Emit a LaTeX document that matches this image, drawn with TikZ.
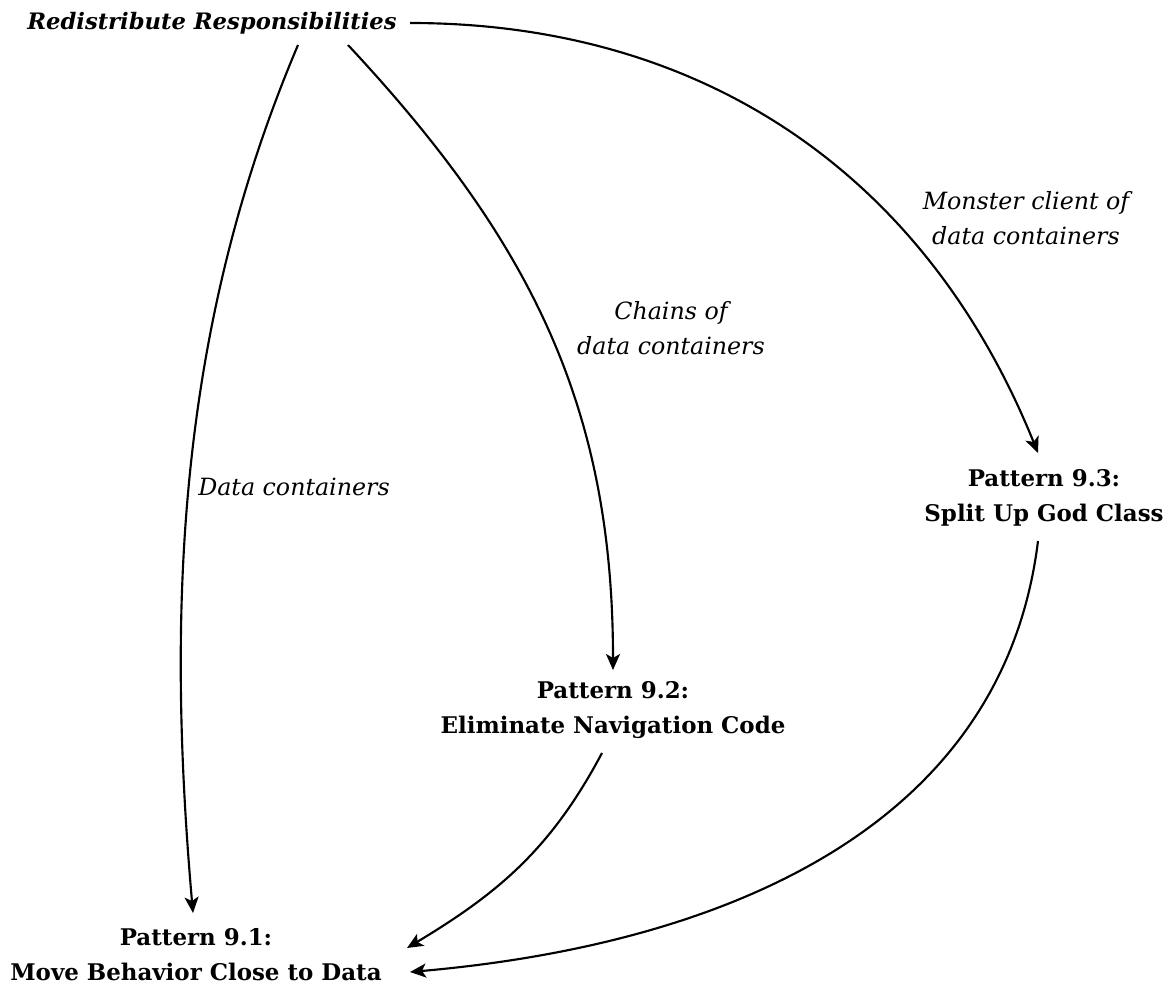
\documentclass[tikz,border=0pt]{standalone}
\usepackage{fontspec}
\setmainfont{DejaVu Serif}
\usetikzlibrary{arrows.meta,calc}
\begin{document}
\begin{tikzpicture}[x=0.75pt,y=-0.75pt,
  txt/.style={align=center, inner sep=0pt},
  title/.style={txt, font=\fontsize{17}{26.25}\selectfont\bfseries\itshape},
  lbl/.style={txt, font=\fontsize{17.8}{26.25}\selectfont\itshape},
  pat/.style={txt, font=\fontsize{17.2}{26.25}\selectfont\bfseries},
  conn/.style={line width=1.6pt, -{Stealth[length=12pt,width=10.5pt,inset=3pt]}}]
\useasboundingbox (0,0) rectangle (1168,987);

% topic and pattern nodes
\node[title] (rr) at (212,23) {Redistribute Responsibilities};
\node[pat] (p3) at (1044,498) {Pattern 9.3:\\Split Up God Class};
\node[pat] (p2) at (613,710) {Pattern 9.2:\\Eliminate Navigation Code};
\node[pat] (p1) at (196,955) {Pattern 9.1:\\Move Behavior Close to Data};

% edge labels
\node[lbl] (l3) at (1026,218) {Monster client of\\data containers};
\node[lbl] (l2) at (671,328) {Chains of\\data containers};
\node[lbl] (l1) at (294,487) {Data containers};

% connector ends, placed just off each text block
\coordinate (rrE) at ($(rr.center)+(198,0)$);
\coordinate (rrA) at ($(rr.center)+(86,22)$);
\coordinate (rrB) at ($(rr.center)+(136,22)$);
\coordinate (p3N) at ($(p3.center)+(-6,-45)$);
\coordinate (p3S) at ($(p3.center)+(-6,43)$);
\coordinate (p2N) at ($(p2.center)+(0,-40)$);
\coordinate (p2S) at ($(p2.center)+(-11,43)$);
\coordinate (p1N) at ($(p1.center)+(-3,-42)$);
\coordinate (p1E1) at ($(p1.center)+(211,-7)$);
\coordinate (p1E2) at ($(p1.center)+(214,17)$);

% connectors
\draw[conn] (rrE) to[out=0,in=112] (p3N);
\draw[conn] (rrB) to[out=-47,in=90] (p2N);
\draw[conn] (rrA) to[out=-113,in=95,looseness=0.9] (p1N);
\draw[conn] (p2S) to[out=-118,in=31] (p1E1);
\draw[conn] (p3S) to[out=-97,in=5] (p1E2);
\end{tikzpicture}
\end{document}
